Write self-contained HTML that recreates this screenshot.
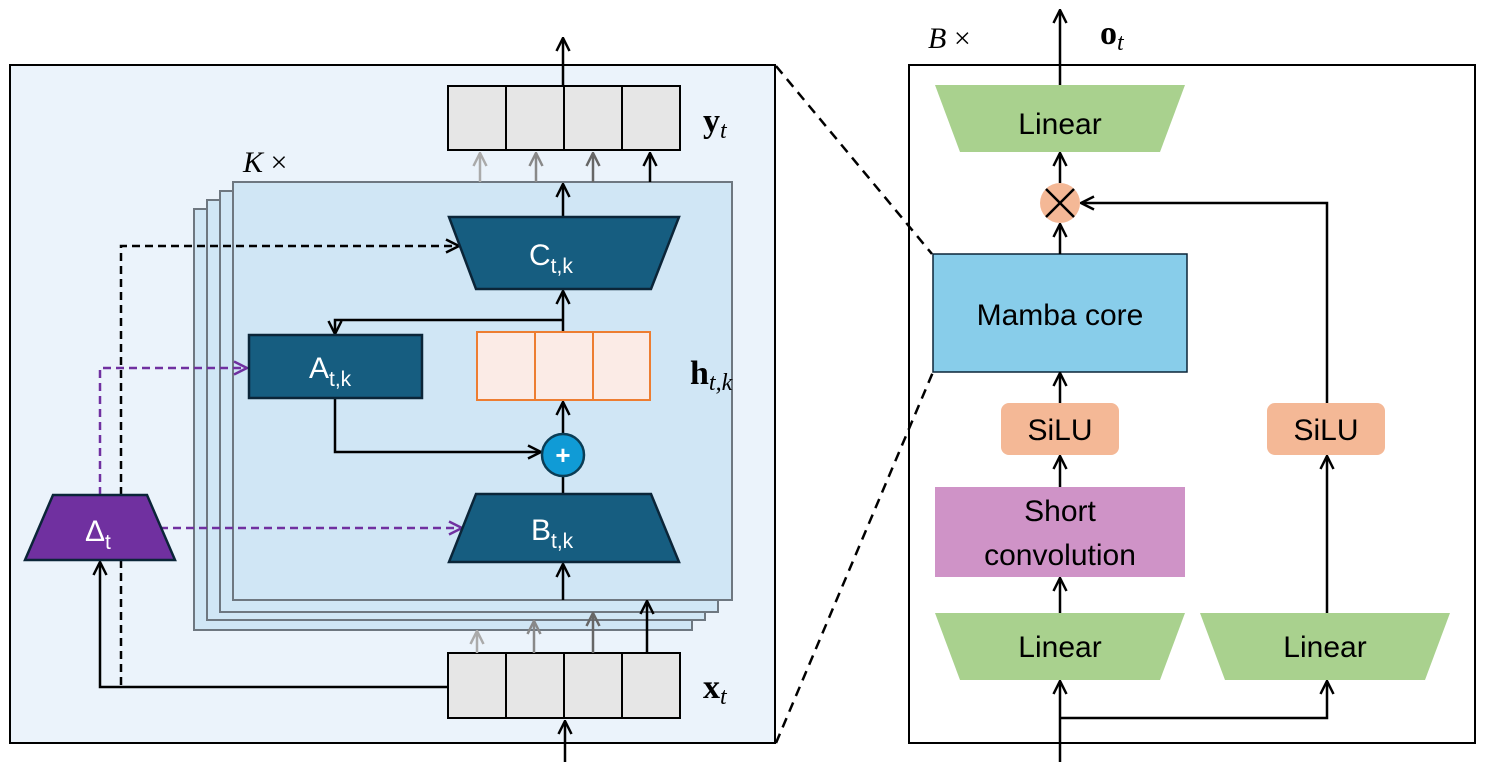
<!DOCTYPE html>
<html><head><meta charset="utf-8"><style>body{margin:0;background:#fff}svg{display:block}text{font-family:"Liberation Sans",sans-serif}</style></head><body>
<svg width="1485" height="767" viewBox="0 0 1485 767" xmlns="http://www.w3.org/2000/svg">
<defs>
<marker id="ak" viewBox="0 0 16 16" refX="15" refY="8" markerWidth="16" markerHeight="16" markerUnits="userSpaceOnUse" orient="auto"><path d="M2,1.5 L15,8 L2,14.5" fill="none" stroke="#000" stroke-width="2.5"/></marker>
<marker id="ap" viewBox="0 0 16 16" refX="15" refY="8" markerWidth="16" markerHeight="16" markerUnits="userSpaceOnUse" orient="auto"><path d="M2,1.5 L15,8 L2,14.5" fill="none" stroke="#7030a0" stroke-width="2.5"/></marker>
<marker id="g1" viewBox="0 0 16 16" refX="15" refY="8" markerWidth="16" markerHeight="16" markerUnits="userSpaceOnUse" orient="auto"><path d="M2,1.5 L15,8 L2,14.5" fill="none" stroke="#aaa" stroke-width="2.5"/></marker>
<marker id="g2" viewBox="0 0 16 16" refX="15" refY="8" markerWidth="16" markerHeight="16" markerUnits="userSpaceOnUse" orient="auto"><path d="M2,1.5 L15,8 L2,14.5" fill="none" stroke="#888" stroke-width="2.5"/></marker>
<marker id="g3" viewBox="0 0 16 16" refX="15" refY="8" markerWidth="16" markerHeight="16" markerUnits="userSpaceOnUse" orient="auto"><path d="M2,1.5 L15,8 L2,14.5" fill="none" stroke="#666" stroke-width="2.5"/></marker>
</defs>
<!-- left panel -->
<rect x="10" y="65" width="765" height="678" fill="#ebf3fb" stroke="#000" stroke-width="2"/>
<g fill="#d0e6f5" stroke="#6e7780" stroke-width="2">
<rect x="194" y="209" width="498" height="421"/>
<rect x="207" y="200" width="498" height="420"/>
<rect x="220" y="191" width="498" height="421"/>
<rect x="233" y="182" width="499" height="418"/>
</g>
<g fill="#e6e6e6" stroke="#000" stroke-width="2">
<rect x="448" y="86" width="58" height="64"/><rect x="506" y="86" width="58" height="64"/><rect x="564" y="86" width="58" height="64"/><rect x="622" y="86" width="58" height="64"/>
<rect x="448" y="653" width="58" height="65"/><rect x="506" y="653" width="58" height="65"/><rect x="564" y="653" width="58" height="65"/><rect x="622" y="653" width="58" height="65"/>
</g>
<g stroke-width="2.5" fill="none">
<line x1="480" y1="182" x2="480" y2="153" stroke="#aaa" marker-end="url(#g1)"/>
<line x1="536" y1="182" x2="536" y2="153" stroke="#888" marker-end="url(#g2)"/>
<line x1="593" y1="182" x2="593" y2="153" stroke="#666" marker-end="url(#g3)"/>
<line x1="650" y1="182" x2="650" y2="153" stroke="#000" marker-end="url(#ak)"/>
<line x1="477" y1="653" x2="477" y2="631" stroke="#aaa" marker-end="url(#g1)"/>
<line x1="534" y1="653" x2="534" y2="621" stroke="#888" marker-end="url(#g2)"/>
<line x1="593" y1="653" x2="593" y2="613" stroke="#666" marker-end="url(#g3)"/>
<line x1="647" y1="653" x2="647" y2="601" stroke="#000" marker-end="url(#ak)"/>
</g>
<g stroke="#000" stroke-width="2.5" fill="none">
<line x1="563" y1="86" x2="563" y2="38" marker-end="url(#ak)"/>
<line x1="565" y1="762" x2="565" y2="721" marker-end="url(#ak)"/>
<line x1="563" y1="216" x2="563" y2="184" marker-end="url(#ak)"/>
<line x1="563" y1="332" x2="563" y2="291" marker-end="url(#ak)"/>
<polyline points="563,320 335,320 335,334" marker-end="url(#ak)"/>
<polyline points="335,398 335,452 541,452" marker-end="url(#ak)"/>
<line x1="563" y1="434" x2="563" y2="402" marker-end="url(#ak)"/>
<line x1="563" y1="494" x2="563" y2="476"/>
<line x1="563" y1="600" x2="563" y2="564" marker-end="url(#ak)"/>
<polyline points="448,687 100,687 100,562" marker-end="url(#ak)"/>
<polyline points="121,495 121,246 459,246" stroke-dasharray="8,5" marker-end="url(#ak)"/>
<line x1="121" y1="560" x2="121" y2="687" stroke-dasharray="8,5"/>
</g>
<g stroke="#7030a0" stroke-width="2.5" fill="none" stroke-dasharray="8,5">
<polyline points="100,495 100,368 247,368" marker-end="url(#ap)"/>
<line x1="160" y1="528" x2="462" y2="528" marker-end="url(#ap)"/>
</g>
<g stroke="#0b2538" stroke-width="2.5" fill="#165d80">
<polygon points="449,217 679,217 651,289 476,289"/>
<rect x="249" y="335" width="173" height="63"/>
<polygon points="476,494 651,494 679,562 449,562"/>
<polygon points="53,495 147,495 175,560 25,560" fill="#7030a0"/>
</g>
<g fill="#fbebe6" stroke="#ed7d31" stroke-width="2">
<rect x="477" y="332" width="58" height="68"/><rect x="535" y="332" width="58" height="68"/><rect x="593" y="332" width="57" height="68"/>
</g>
<circle cx="563" cy="455" r="21" fill="#109bd6" stroke="#0b3d55" stroke-width="2.5"/>
<text x="563" y="464" font-size="26" fill="#fff" text-anchor="middle" font-weight="bold">+</text>
<g fill="#fff" font-size="30">
<text x="529" y="265">C<tspan font-size="21" dy="8">t,k</tspan></text>
<text x="309" y="378">A<tspan font-size="21" dy="8">t,k</tspan></text>
<text x="531" y="540">B<tspan font-size="21" dy="8">t,k</tspan></text>
<text x="85" y="541">Δ<tspan font-size="21" dy="8">t</tspan></text>
</g>
<g font-size="34">
<text x="703" y="132" font-weight="bold" style="font-family:'Liberation Serif'">y<tspan font-style="italic" font-weight="normal" font-size="24" dy="6">t</tspan></text>
<text x="703" y="698" font-weight="bold" style="font-family:'Liberation Serif'">x<tspan font-style="italic" font-weight="normal" font-size="24" dy="6">t</tspan></text>
<text x="690" y="384" font-weight="bold" style="font-family:'Liberation Serif'">h<tspan font-style="italic" font-weight="normal" font-size="24" dy="6">t,k</tspan></text>
<text x="243" y="172" font-size="30" font-style="italic" style="font-family:'Liberation Serif'">K <tspan font-style="normal">×</tspan></text>
<text x="928" y="48" font-size="30" font-style="italic" style="font-family:'Liberation Serif'">B <tspan font-style="normal">×</tspan></text>
<text x="1100" y="44" font-weight="bold" style="font-family:'Liberation Serif'">o<tspan font-style="italic" font-weight="normal" font-size="24" dy="6">t</tspan></text>
</g>
<!-- right panel -->
<rect x="909" y="65" width="566" height="678" fill="#fff" stroke="#000" stroke-width="2"/>
<g stroke="#000" stroke-width="2.5" stroke-dasharray="10,7">
<line x1="776" y1="66" x2="932" y2="254"/>
<line x1="776" y1="743" x2="933" y2="372"/>
</g>
<g fill="#a9d18e">
<polygon points="935,85 1185,85 1160,152 960,152"/>
<polygon points="935,613 1185,613 1160,680 960,680"/>
<polygon points="1200,613 1450,613 1425,680 1225,680"/>
</g>
<rect x="933" y="254" width="254" height="118" fill="#88cdea" stroke="#0b2538" stroke-width="1.5"/>
<rect x="1001" y="403" width="118" height="52" rx="8" fill="#f4b896"/>
<rect x="1267" y="403" width="118" height="52" rx="8" fill="#f4b896"/>
<rect x="935" y="487" width="250" height="90" fill="#cf93c7"/>
<circle cx="1060" cy="203" r="20" fill="#f4b896"/>
<g stroke="#000" stroke-width="2.5" fill="none">
<line x1="1046" y1="189" x2="1074" y2="217"/><line x1="1074" y1="189" x2="1046" y2="217"/>
<line x1="1060" y1="85" x2="1060" y2="10" marker-end="url(#ak)"/>
<line x1="1060" y1="183" x2="1060" y2="153" marker-end="url(#ak)"/>
<line x1="1060" y1="254" x2="1060" y2="224" marker-end="url(#ak)"/>
<line x1="1060" y1="403" x2="1060" y2="373" marker-end="url(#ak)"/>
<line x1="1060" y1="487" x2="1060" y2="456" marker-end="url(#ak)"/>
<line x1="1060" y1="613" x2="1060" y2="578" marker-end="url(#ak)"/>
<line x1="1060" y1="762" x2="1060" y2="681" marker-end="url(#ak)"/>
<polyline points="1060,718 1327,718 1327,681" marker-end="url(#ak)"/>
<line x1="1327" y1="613" x2="1327" y2="456" marker-end="url(#ak)"/>
<polyline points="1327,403 1327,203 1081,203" marker-end="url(#ak)"/>
</g>
<g font-size="30" fill="#000" text-anchor="middle">
<text x="1060" y="134">Linear</text>
<text x="1060" y="325">Mamba core</text>
<text x="1060" y="440">SiLU</text>
<text x="1326" y="440">SiLU</text>
<text x="1060" y="521">Short</text>
<text x="1060" y="565">convolution</text>
<text x="1060" y="657">Linear</text>
<text x="1325" y="657">Linear</text>
</g>
</svg>
</body></html>
